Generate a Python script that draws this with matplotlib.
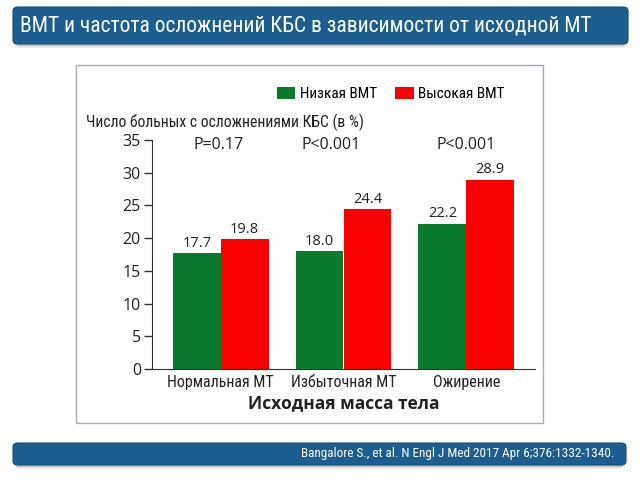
import matplotlib
matplotlib.use("Agg")
from matplotlib import pyplot as plt
from matplotlib import font_manager
from matplotlib.patches import FancyBboxPatch, Rectangle
import numpy as np

# data
categories = ["Нормальная МТ", "Избыточная МТ", "Ожирение"]
low_bmt = [17.7, 18.0, 22.2]
high_bmt = [19.8, 24.4, 28.9]
p_values = ["P=0.17", "P<0.001", "P<0.001"]
series_names = ["Низкая ВМТ", "Высокая ВМТ"]
yticks = [0, 5, 10, 15, 20, 25, 30, 35]

title = "ВМТ и частота осложнений КБС в зависимости от исходной МТ"
source = "Bangalore S., et al. N Engl J Med 2017 Apr 6;376:1332-1340."
ylabel = "Число больных с осложнениями КБС (в %)"
xlabel = "Исходная масса тела"

GREEN = "#0a7b2c"
RED = "#fa0000"
BLUE = "#1b5e8f"

installed = {f.name for f in font_manager.fontManager.ttflist}
narrow_pref = ["Liberation Sans Narrow", "DejaVu Sans Condensed",
               "Roboto Condensed", "Open Sans Condensed", "Liberation Sans"]
NARROW_NAME = next((n for n in narrow_pref if n in installed), "DejaVu Sans")
NARROW = [NARROW_NAME, "DejaVu Sans"]
CHART = ["Open Sans", "DejaVu Sans"]

W, H = 640, 480
fig = plt.figure(figsize=(6.4, 4.8), dpi=100)
fig.patch.set_facecolor("white")
renderer = fig.canvas.get_renderer()


def px(x, y):
    # pixel from top-left -> figure fraction
    return x / W, 1 - y / H


def fit_text(t, target_px, max_size):
    # shrink a text until it is no wider than target_px
    size = max_size
    while size > 5:
        t.set_fontsize(size)
        if t.get_window_extent(renderer).width <= target_px:
            break
        size -= 0.25


def banner(x0, y0, x1, y1):
    fx0, fy1 = px(x0, y0)
    fx1, fy0 = px(x1, y1)
    for i, a in enumerate([0.10, 0.08, 0.06]):
        d = (i + 2) / H
        fig.patches.append(FancyBboxPatch(
            (fx0 + 0.003, fy0 - d), fx1 - fx0 - 0.006, fy1 - fy0,
            boxstyle="round,pad=0,rounding_size=0.008", transform=fig.transFigure,
            facecolor="black", edgecolor="none", alpha=a, zorder=-2))
    fig.patches.append(FancyBboxPatch(
        (fx0, fy0), fx1 - fx0, fy1 - fy0,
        boxstyle="round,pad=0,rounding_size=0.008", transform=fig.transFigure,
        facecolor=BLUE, edgecolor="#174f79", linewidth=0.8, zorder=-1))


banner(13, 7, 628, 44)
t = fig.text(*px(20, 26), title, color="white", fontsize=16, family=NARROW,
             ha="left", va="center", zorder=3)
fit_text(t, 578, 17)

banner(13, 443, 626, 465)
s = fig.text(*px(614, 454), source, color="white", fontsize=9, family=NARROW,
             ha="right", va="center", zorder=3)
fit_text(s, 316, 9.5)

# chart frame
fx0, fy1 = px(76, 65)
fx1, fy0 = px(543, 423)
fig.patches.append(Rectangle((fx0, fy0), fx1 - fx0, fy1 - fy0,
                             transform=fig.transFigure, facecolor="white",
                             edgecolor="#a3adbb", linewidth=1.0, zorder=-3))

# axes
l, t_ = px(152, 140)
r, b = px(535, 369)
ax = fig.add_axes([l, b, r - l, t_ - b])
ax.set_facecolor("none")

x = np.arange(len(categories))
w = 0.39
ax.bar(x - w / 2, low_bmt, w, color=GREEN, label=series_names[0])
ax.bar(x + w / 2, high_bmt, w, color=RED, label=series_names[1])

for xi, v in zip(x - w / 2, low_bmt):
    ax.text(xi, v + 0.4, f"{v:.1f}", ha="center", va="bottom", fontsize=10.5,
            family=CHART, color="#222222")
for xi, v in zip(x + w / 2, high_bmt):
    ax.text(xi, v + 0.4, f"{v:.1f}", ha="center", va="bottom", fontsize=10.5,
            family=CHART, color="#222222")

for xi, p in zip([-0.02, 0.9, 2.0], p_values):
    ax.text(xi, 34.2, p, ha="center", va="center", fontsize=11.5,
            family=CHART, color="#222222")

ax.set_xlim(-0.56, 2.56)
ax.set_ylim(0, 35)
ax.set_yticks(yticks)
ax.set_xticks(x)
ax.set_xticklabels(categories, fontsize=11.5, family=NARROW, color="#222222")
ax.tick_params(axis="x", length=0, pad=4)
ax.tick_params(axis="y", length=6, width=1, labelsize=11.5, color="#333333",
               labelcolor="#222222", pad=2)
for lab in ax.get_yticklabels():
    lab.set_family(CHART)
for sp in ["top", "right"]:
    ax.spines[sp].set_visible(False)
ax.spines["left"].set_color("#333333")
ax.spines["bottom"].set_color("#333333")

ax.set_xlabel(xlabel, fontsize=12.5, fontweight="bold", family=CHART,
              color="#222222", labelpad=3)

yl = fig.text(*px(86, 122), ylabel, fontsize=11, family=NARROW, color="#222222",
              ha="left", va="center")
fit_text(yl, 282, 13)

# legend
leg = ax.legend(loc="center left", bbox_to_anchor=(277 / W, 1 - 94 / H),
                bbox_transform=fig.transFigure, ncol=2, frameon=False,
                handlelength=1.2, handleheight=0.8, handletextpad=0.3,
                columnspacing=1.2, borderaxespad=0, borderpad=0,
                prop={"family": NARROW, "size": 11})

fig.savefig("out.png", dpi=100)
